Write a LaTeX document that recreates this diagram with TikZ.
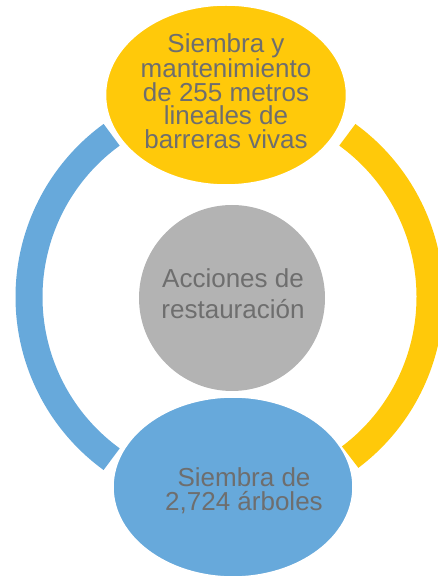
\documentclass[tikz,border=0pt]{standalone}
\usepackage{fontspec}
\setmainfont{Liberation Sans}
\usetikzlibrary{calc,shapes.geometric}
\definecolor{ygold}{HTML}{FFC90A}
\definecolor{sblue}{HTML}{67A9DB}
\definecolor{cgray}{HTML}{B3B3B3}
\definecolor{tgray}{HTML}{6E6E6E}
\begin{document}
\begin{tikzpicture}[x=1pt,y=1pt,
  ringarc/.style={line width=27pt},
  bubble/.style={ellipse, inner sep=0pt, draw=white, line width=1.5pt},
  label/.style={text=tgray, align=center, inner sep=0pt, font=\fontsize{26}{23.5}\selectfont}]
\useasboundingbox (0,0) rectangle (438,579);
\coordinate (c) at (229.5,282);
% ring arcs
\draw[ringarc, sblue] ($(c)+(126:200.5)$) arc[start angle=126, end angle=234, radius=200.5];
\draw[ringarc, ygold] ($(c)+(-53:200.5)$) arc[start angle=-53, end angle=54, radius=200.5];
% center circle
\node[circle, fill=cgray, minimum size=186pt, inner sep=0pt] (mid) at (232,281) {};
\node[label, font=\fontsize{26}{31}\selectfont] (midtxt) at (233,285) {Acciones de\\restauración};
% top ellipse
\node[bubble, fill=ygold, minimum width=241pt, minimum height=180pt] (top) at (226,484) {};
\node[label] (toptxt) at (226,488) {Siembra y\\mantenimiento\\de 255 metros\\lineales de\\barreras vivas};
% bottom ellipse
\node[bubble, fill=sblue, minimum width=240pt, minimum height=180pt] (bot) at (233,92) {};
\node[label, font=\fontsize{26}{24}\selectfont] (bottxt) at (244,88) {Siembra de\\2,724 árboles};
\end{tikzpicture}
\end{document}
